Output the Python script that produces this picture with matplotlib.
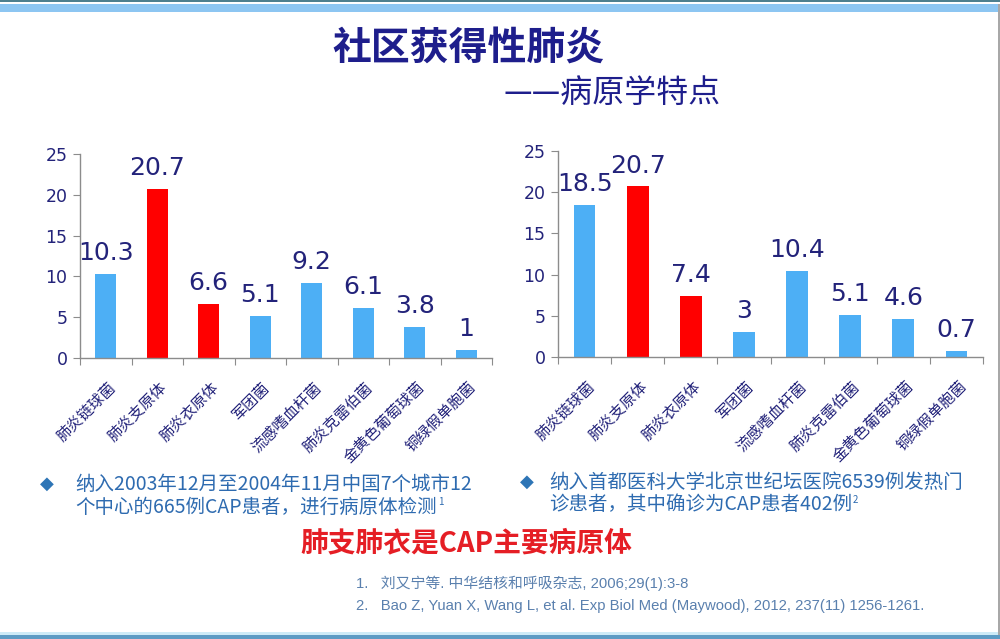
import matplotlib
matplotlib.use("Agg")
import matplotlib.pyplot as plt
import matplotlib.transforms as mtransforms
from matplotlib.patches import Rectangle
import numpy as np

plt.rcParams['font.family'] = ['Noto Sans CJK SC', 'DejaVu Sans']

categories = ['肺炎链球菌', '肺炎支原体', '肺炎衣原体', '军团菌', '流感嗜血杆菌',
              '肺炎克雷伯菌', '金黄色葡萄球菌', '铜绿假单胞菌']
left_values = [10.3, 20.7, 6.6, 5.1, 9.2, 6.1, 3.8, 1]
right_values = [18.5, 20.7, 7.4, 3, 10.4, 5.1, 4.6, 0.7]
highlight = [False, True, True, False, False, False, False, False]
yticks = [0, 5, 10, 15, 20, 25]

title = '社区获得性肺炎'
subtitle = '——病原学特点'
left_note = ['纳入2003年12月至2004年11月中国7个城市12', '个中心的665例CAP患者，进行病原体检测']
right_note = ['纳入首都医科大学北京世纪坛医院6539例发热门', '诊患者，其中确诊为CAP患者402例']
conclusion = '肺支肺衣是CAP主要病原体'
refs = ['1.   刘又宁等. 中华结核和呼吸杂志, 2006;29(1):3-8',
        '2.   Bao Z, Yuan X, Wang L, et al. Exp Biol Med (Maywood), 2012, 237(11) 1256-1261.']

W, H = 1000, 639
fig = plt.figure(figsize=(W / 100, H / 100), dpi=100)
fig.patch.set_facecolor('white')

NAVY = '#23237A'
BLUE = '#4DAFF5'
RED = '#FF0000'
AXC = '#8C8C8C'


def fx(px):
    return px / W


def fy(py):
    return 1 - py / H


def draw_chart(rect, values):
    ax = fig.add_axes(rect)
    x = np.arange(len(values))
    colors = [RED if h else BLUE for h in highlight]
    ax.bar(x, values, width=0.41, color=colors, zorder=2)
    ax.set_xlim(-0.5, len(values) - 0.5)
    ax.set_ylim(0, 25)
    ax.set_yticks(yticks)
    ax.set_yticklabels([str(t) for t in yticks], fontsize=12.5, color=NAVY,
                       family='DejaVu Sans')
    ax.set_xticks(np.arange(-0.5, len(values), 1))
    ax.set_xticklabels([])
    ax.set_xticks(x, minor=True)
    ax.set_xticklabels(categories, minor=True, rotation=45, ha='right',
                       va='top', rotation_mode='anchor', fontsize=11, color=NAVY)
    ax.tick_params(axis='x', which='major', length=5, color=AXC, direction='out')
    ax.tick_params(axis='x', which='minor', length=0, pad=15)
    ax.tick_params(axis='y', length=5, color=AXC, pad=4)
    offset = mtransforms.ScaledTranslation(1 / 72, 0, fig.dpi_scale_trans)
    for lab in ax.get_xticklabels(minor=True):
        lab.set_transform(lab.get_transform() + offset)
    for s in ['top', 'right']:
        ax.spines[s].set_visible(False)
    for s in ['left', 'bottom']:
        ax.spines[s].set_color(AXC)
        ax.spines[s].set_linewidth(1.0)
    for xi, v in zip(x, values):
        ax.annotate(f'{v:g}', (xi, v), xytext=(0, 10), textcoords='offset points',
                    ha='center', va='baseline', fontsize=18, color=NAVY,
                    family='DejaVu Sans', annotation_clip=False)
    return ax


draw_chart([fx(80), fy(358), fx(492) - fx(80), fy(154) - fy(358)], left_values)
draw_chart([fx(558), fy(357), fx(983) - fx(558), fy(151) - fy(357)], right_values)

# Title
fig.text(fx(468), fy(48), title, ha='center', va='center', fontsize=28,
         weight='bold', color='#1E1E8C')
fig.text(fx(612), fy(93), subtitle, ha='center', va='center', fontsize=23,
         weight='medium', color='#1E1E8C')

# Notes
NOTE_C = '#2E6BB0'
fig.text(fx(47), fy(484), '◆', ha='center', va='center', fontsize=13,
         color='#2E75B6', family='DejaVu Sans')
fig.text(fx(527), fy(482), '◆', ha='center', va='center', fontsize=13,
         color='#2E75B6', family='DejaVu Sans')
lt1 = fig.text(fx(75), fy(484), left_note[0], ha='left', va='center', fontsize=14, color=NOTE_C)
lt2 = fig.text(fx(75), fy(507), left_note[1], ha='left', va='center', fontsize=14, color=NOTE_C)
rt1 = fig.text(fx(549), fy(482), right_note[0], ha='left', va='center', fontsize=14, color=NOTE_C)
rt2 = fig.text(fx(549), fy(505), right_note[1], ha='left', va='center', fontsize=14, color=NOTE_C)

fig.canvas.draw()
r = fig.canvas.get_renderer()
for t, sup, ypx in [(lt2, '1', 502), (rt2, '2', 500)]:
    bb = t.get_window_extent(r)
    fig.text(bb.x1 / W + fx(1), fy(ypx), sup, ha='left', va='center',
             fontsize=7, color=NOTE_C)

# Conclusion
fig.text(fx(466), fy(543), conclusion, ha='center', va='center', fontsize=20,
         weight='bold', color='#E51E25')

# References
REF_C = '#5A80AE'
fig.text(fx(356), fy(583), refs[0], ha='left', va='center', fontsize=10.7,
         color=REF_C, family=['Liberation Sans', 'Noto Sans CJK SC'])
fig.text(fx(356), fy(606), refs[1], ha='left', va='center', fontsize=10.7,
         color=REF_C, family=['Liberation Sans', 'Noto Sans CJK SC'])

# Decorative borders
def band(y0, y1, color, x0=0, x1=W):
    fig.add_artist(Rectangle((fx(x0), fy(y1)), fx(x1) - fx(x0), (y1 - y0) / H,
                             transform=fig.transFigure, color=color, lw=0, zorder=0))

band(0, 1.5, '#4E7F8E')
band(4, 12, '#8DC6F2')
band(632, 635, '#CDEBF7')
band(635, 639, '#5C9BC4')
band(4, 635, '#A8A8A8', x0=998, x1=1000)

fig.savefig('out.png', dpi=100, facecolor='white')
